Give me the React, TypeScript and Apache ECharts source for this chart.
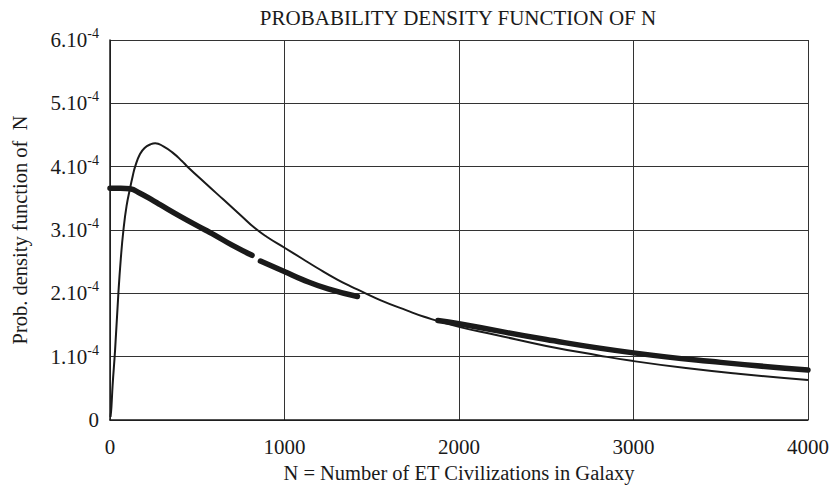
import React, { useEffect, useRef } from "react";
import * as echarts from "echarts";

// Values; densities in units of 1e-4
const thinN = [3, 8, 15, 29, 48, 62, 77, 95, 115, 130, 144, 172, 200, 230, 259, 306, 364, 412, 444, 550, 650, 750, 830, 900, 1000, 1100, 1188, 1300, 1379, 1450, 1552, 1700, 1800, 2000, 2200, 2500, 2800, 3000, 3300, 3600, 4000];
const thinP = [0.05, 0.2, 0.55, 1.1, 2.0, 2.55, 3.0, 3.38, 3.66, 3.85, 4.0, 4.2, 4.3, 4.35, 4.37, 4.32, 4.21, 4.09, 4.0, 3.73, 3.48, 3.23, 3.03, 2.89, 2.72, 2.55, 2.4, 2.22, 2.11, 2.02, 1.89, 1.73, 1.63, 1.47, 1.35, 1.17, 1.02, 0.93, 0.82, 0.73, 0.63];

const thickN1 = [0, 60, 115, 172, 250, 287, 400, 546, 600, 700, 814];
const thickP1 = [3.66, 3.66, 3.65, 3.58, 3.46, 3.4, 3.22, 3.0, 2.92, 2.76, 2.6];
const thickN2 = [862, 1002, 1100, 1250, 1418];
const thickP2 = [2.51, 2.34, 2.22, 2.07, 1.95];
const thickN3 = [1879, 2000, 2500, 3000, 3500, 4000];
const thickP3 = [1.57, 1.52, 1.27, 1.06, 0.91, 0.79];

const xTicks = [0, 1000, 2000, 3000, 4000];
const yTickMantissas = [0, 1, 2, 3, 4, 5, 6];

const SCALE = 1e-4;
const FONT = '"Liberation Serif", "DejaVu Serif", serif';
const INK = "#1a1a1a";

function pairs(xs: number[], ys: number[]) {
  return xs.map((x, i) => [x, ys[i] * SCALE]);
}

export default function App() {
  const ref = useRef<HTMLDivElement>(null);
  useEffect(() => {
    if (!ref.current) return;
    const chart = echarts.init(ref.current, undefined, { renderer: "svg" });
    const thickStyle = { color: INK, width: 5.5, cap: "round" as const };
    chart.setOption({
      animation: false,
      backgroundColor: "#ffffff",
      title: {
        text: "PROBABILITY DENSITY FUNCTION OF N",
        left: 453,
        textAlign: "center",
        top: 2,
        textStyle: { fontFamily: FONT, fontSize: 21, fontWeight: "normal", color: INK },
      },
      grid: { left: 110, right: 23, top: 40, bottom: 66, containLabel: false, outerBoundsMode: "none" },
      xAxis: {
        type: "value",
        min: xTicks[0],
        max: xTicks[xTicks.length - 1],
        interval: 1000,
        name: "N = Number of ET Civilizations in Galaxy",
        nameLocation: "middle",
        nameGap: 42,
        nameTextStyle: { fontFamily: FONT, fontSize: 20.5, color: INK },
        axisLine: { show: true, lineStyle: { color: INK, width: 1.5 } },
        axisTick: { show: false },
        axisLabel: {
          fontFamily: FONT,
          fontSize: 21,
          color: INK,
          margin: 16,
          formatter: (v: number) => String(v),
        },
        splitLine: { show: true, lineStyle: { color: "#333", width: 1 } },
      },
      yAxis: {
        type: "value",
        min: 0,
        max: yTickMantissas[yTickMantissas.length - 1] * SCALE,
        interval: SCALE,
        name: "Prob. density function of  N",
        nameLocation: "middle",
        nameGap: 80,
        nameTextStyle: { fontFamily: FONT, fontSize: 20.5, color: INK },
        axisLine: { show: true, lineStyle: { color: INK, width: 1.5 } },
        axisTick: { show: false },
        axisLabel: {
          fontFamily: FONT,
          fontSize: 21,
          color: INK,
          margin: 11,
          formatter: (v: number) => {
            const m = Math.round(v / SCALE);
            if (m === 0) return "0";
            return `{a|${m}.10}{b|-4}`;
          },
          rich: {
            a: { fontFamily: FONT, fontSize: 21, color: INK },
            b: { fontFamily: FONT, fontSize: 14, color: INK, padding: [0, 0, 13, 0] },
          },
        },
        splitLine: { show: true, lineStyle: { color: "#333", width: 1 } },
      },
      series: [
        {
          type: "line",
          data: pairs(thinN, thinP),
          smooth: 0.5,
          showSymbol: false,
          lineStyle: { color: INK, width: 2 },
        },
        { type: "line", data: pairs(thickN1, thickP1), smooth: 0.5, showSymbol: false, lineStyle: thickStyle },
        { type: "line", data: pairs(thickN2, thickP2), smooth: 0.5, showSymbol: false, lineStyle: thickStyle },
        { type: "line", data: pairs(thickN3, thickP3), smooth: 0.5, showSymbol: false, lineStyle: thickStyle },
      ],
    });
    return () => chart.dispose();
  }, []);
  return (
    <div
      ref={ref}
      style={{ position: "fixed", left: 0, top: 0, width: 831, height: 486 }}
    />
  );
}
